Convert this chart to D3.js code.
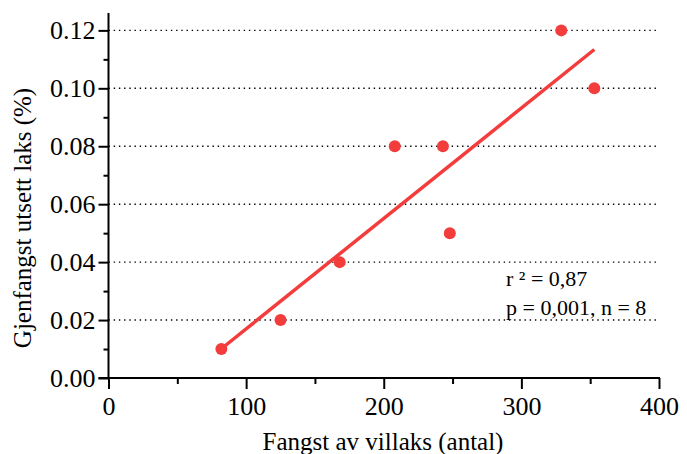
<!DOCTYPE html>
<html>
<head>
<meta charset="utf-8">
<script src="https://cdn.jsdelivr.net/npm/d3@7"></script>
<style>
  body { margin: 0; background: #fff; }
  svg text { font-family: "Liberation Serif", "Times New Roman", serif; fill: #000; }
</style>
</head>
<body>
<div class="chart"></div>
<script>
// data
var catch_wild = [82, 125, 168, 208, 243, 248, 329, 353];
var recapture = [0.01, 0.02, 0.04, 0.08, 0.08, 0.05, 0.12, 0.10];
// regression line end points
var fit_x = [82, 353];
var fit_y = [0.0101, 0.1134];

var x_ticks = [0, 100, 200, 300, 400];
var x_minor = [50, 150, 250, 350];
var y_ticks = [0, 0.02, 0.04, 0.06, 0.08, 0.10, 0.12];
var y_minor = [0.01, 0.03, 0.05, 0.07, 0.09, 0.11];

var stats_text = ["r \u00b2 = 0,87", "p = 0,001, n = 8"];

var red = "#f33c3c";

var svg = d3.select("div.chart")
    .append("svg")
    .attr("width", 687)
    .attr("height", 454);

var x = d3.scaleLinear().domain([0, 400]).range([108.5, 659]);
var y = d3.scaleLinear().domain([0, 0.126]).range([378, 13]);

// dotted grid lines
svg.append("g")
    .selectAll("line")
    .data(y_ticks.filter(function (d) { return d > 0; }))
    .enter()
    .append("line")
    .attr("x1", x(0))
    .attr("x2", x(400))
    .attr("y1", function (d) { return y(d); })
    .attr("y2", function (d) { return y(d); })
    .attr("stroke", "#000")
    .attr("stroke-width", 1.4)
    .attr("stroke-dasharray", "1.4,3.8");

// y axis
var yAxis = svg.append("g")
    .attr("transform", "translate(" + x(0) + ",0)")
    .call(d3.axisLeft(y).tickValues(y_ticks).tickSize(10).tickPadding(3)
        .tickFormat(d3.format(".2f")));
yAxis.select(".domain").remove();
yAxis.selectAll("line").attr("stroke", "#000").attr("stroke-width", 2);
yAxis.selectAll("text").style("font-size", "26px").attr("font-family", null);

var yMinor = svg.append("g")
    .attr("transform", "translate(" + x(0) + ",0)")
    .call(d3.axisLeft(y).tickValues(y_minor).tickSize(5).tickFormat(""));
yMinor.select(".domain").remove();
yMinor.selectAll("line").attr("stroke", "#000").attr("stroke-width", 2);

// x axis
var xAxis = svg.append("g")
    .attr("transform", "translate(0," + y(0) + ")")
    .call(d3.axisBottom(x).tickValues(x_ticks).tickSize(11).tickPadding(8)
        .tickFormat(d3.format("d")));
xAxis.select(".domain").remove();
xAxis.selectAll("line").attr("stroke", "#000").attr("stroke-width", 2);
xAxis.selectAll("text").style("font-size", "26px").attr("font-family", null);

var xMinor = svg.append("g")
    .attr("transform", "translate(0," + y(0) + ")")
    .call(d3.axisBottom(x).tickValues(x_minor).tickSize(6).tickFormat(""));
xMinor.select(".domain").remove();
xMinor.selectAll("line").attr("stroke", "#000").attr("stroke-width", 2);

// axis lines
svg.append("line")
    .attr("x1", x(0)).attr("x2", x(0))
    .attr("y1", y(0.126)).attr("y2", y(0))
    .attr("stroke", "#000").attr("stroke-width", 2);
svg.append("line")
    .attr("x1", x(0) - 10).attr("x2", x(400) + 1)
    .attr("y1", y(0)).attr("y2", y(0))
    .attr("stroke", "#000").attr("stroke-width", 2);

// regression line
var line = d3.line()
    .x(function (d) { return x(d[0]); })
    .y(function (d) { return y(d[1]); });
svg.append("path")
    .datum(d3.zip(fit_x, fit_y))
    .attr("d", line)
    .attr("fill", "none")
    .attr("stroke", red)
    .attr("stroke-width", 3.5);

// points
svg.append("g")
    .selectAll("circle")
    .data(d3.zip(catch_wild, recapture))
    .enter()
    .append("circle")
    .attr("cx", function (d) { return x(d[0]); })
    .attr("cy", function (d) { return y(d[1]); })
    .attr("r", 6)
    .attr("fill", red);

// stats
svg.append("g")
    .selectAll("text")
    .data(stats_text)
    .enter()
    .append("text")
    .attr("x", 506)
    .attr("y", function (d, i) { return 286 + i * 29; })
    .style("font-size", "22px")
    .text(function (d) { return d; });

// axis titles
svg.append("text")
    .attr("x", 383)
    .attr("y", 450)
    .attr("text-anchor", "middle")
    .style("font-size", "25px")
    .text("Fangst av villaks (antal)");

svg.append("text")
    .attr("transform", "translate(31," + 218 + ") rotate(-90)")
    .attr("text-anchor", "middle")
    .style("font-size", "25px")
    .text("Gjenfangst utsett laks (%)");
</script>
</body>
</html>
